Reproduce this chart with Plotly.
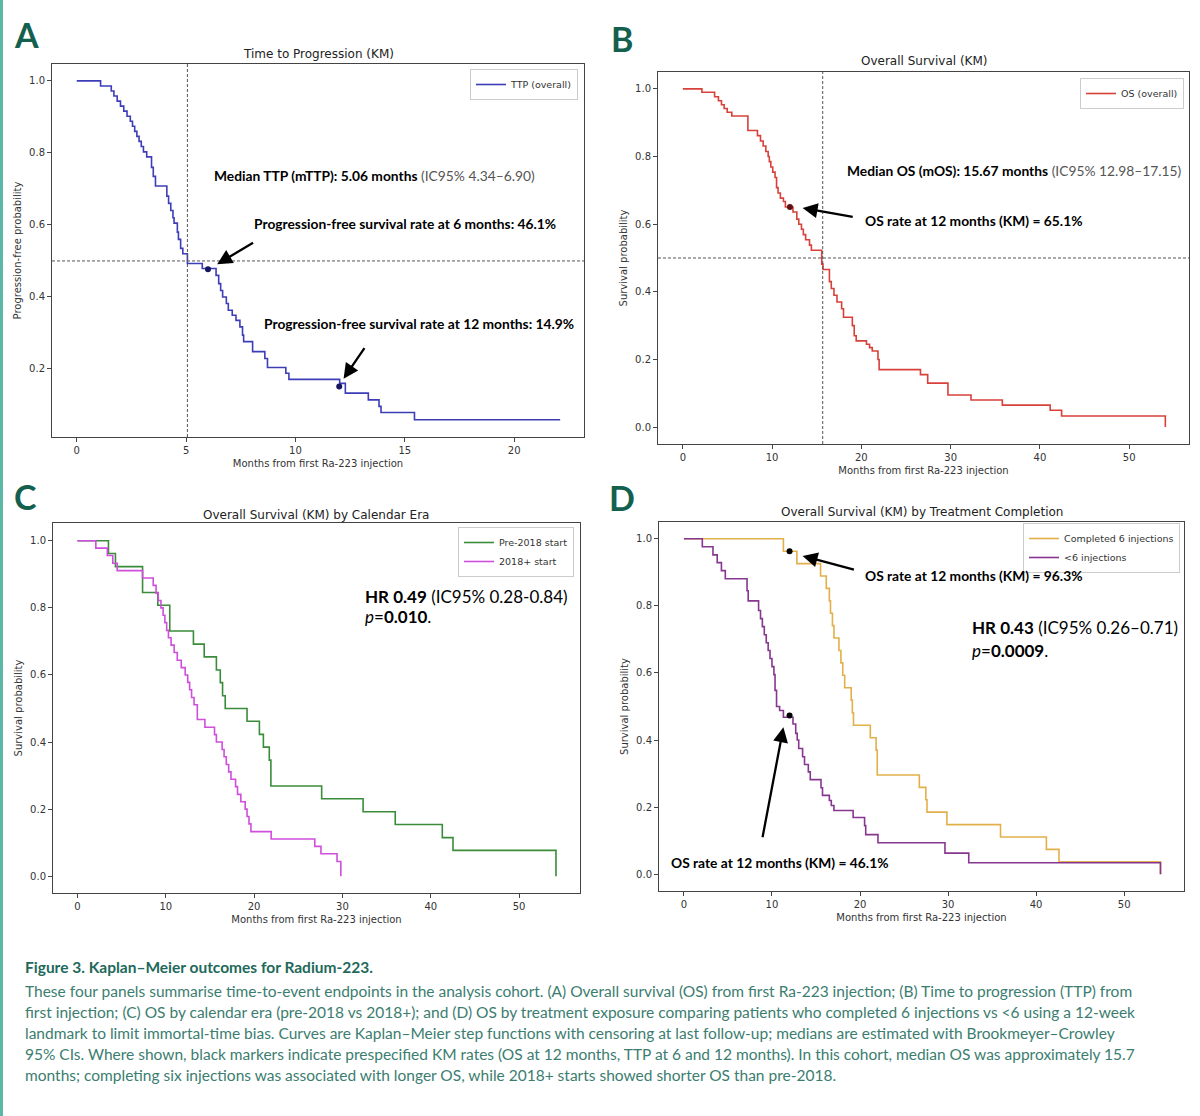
import plotly.graph_objects as go

W, H = 1200, 1116

# ---------------- data ----------------
# Panel A: Time to progression (overall)
ttp_t = [0, 1.09, 1.58, 1.70, 1.85, 2.00, 2.15, 2.30, 2.45, 2.55, 2.65, 2.75, 2.85, 2.95, 3.05, 3.20, 3.42, 3.50, 3.60, 4.12,
         4.20, 4.30, 4.40, 4.45, 4.60, 4.65, 4.75, 4.85, 5.06, 5.74, 6.37, 6.49, 6.58, 6.67, 6.84, 6.93, 7.11, 7.28, 7.46, 7.58,
         7.63, 8.04, 8.60, 8.72, 9.56, 9.70, 12.02, 12.28, 13.33, 13.82, 13.91, 15.44, 22.10]
ttp_s = [1.000, 0.986, 0.972, 0.958, 0.944, 0.930, 0.916, 0.902, 0.888, 0.874, 0.860, 0.846, 0.832, 0.818, 0.803, 0.789, 0.760, 0.735, 0.708, 0.680,
         0.660, 0.640, 0.620, 0.605, 0.580, 0.560, 0.535, 0.520, 0.493, 0.479, 0.460, 0.437, 0.418, 0.400, 0.382, 0.363, 0.349, 0.335, 0.317, 0.294,
         0.276, 0.248, 0.229, 0.204, 0.188, 0.171, 0.160, 0.133, 0.114, 0.096, 0.079, 0.059, 0.059]
ttp_mark_t = [6.0, 12.0]
ttp_mark_s = [0.477, 0.151]
ttp_median = 5.06

# Panel B: Overall survival (overall)
os_t = [0, 2.14, 3.56, 3.99, 4.33, 4.63, 4.97, 5.49, 7.29, 8.36, 8.70, 9.00, 9.30, 9.56, 9.69, 9.86, 10.07, 10.33, 10.50, 10.67,
        10.93, 11.27, 11.49, 12.34, 12.77, 12.99, 13.29, 13.50, 13.76, 14.19, 14.40, 15.56, 15.70, 16.42, 16.63, 16.93, 17.27, 17.79, 18.00, 18.99,
        19.20, 19.42, 20.57, 20.92, 21.22, 21.86, 21.99, 26.62, 27.43, 29.70, 32.28, 35.79, 41.15, 42.43, 54.05]
os_s = [1.000, 0.990, 0.977, 0.965, 0.953, 0.942, 0.931, 0.920, 0.877, 0.862, 0.846, 0.831, 0.815, 0.800, 0.785, 0.769, 0.754, 0.738, 0.708, 0.692,
        0.677, 0.667, 0.651, 0.636, 0.615, 0.600, 0.585, 0.569, 0.554, 0.538, 0.523, 0.482, 0.466, 0.430, 0.410, 0.390, 0.370, 0.350, 0.325, 0.300,
        0.270, 0.255, 0.245, 0.235, 0.225, 0.200, 0.170, 0.155, 0.130, 0.095, 0.080, 0.065, 0.050, 0.033, 0.000]
os_mark_t = [12.0]
os_mark_s = [0.651]
os_median = 15.67

# Panel C: OS by calendar era
pre_t = [0, 3.51, 4.30, 7.37, 9.10, 10.45, 13.13, 14.35, 15.73, 16.17, 16.43, 16.73, 19.20, 20.60, 21.05, 21.72, 21.90, 27.65, 32.34, 35.98,
         41.31, 42.52, 54.18]
pre_s = [1.000, 0.962, 0.923, 0.846, 0.808, 0.731, 0.692, 0.654, 0.615, 0.577, 0.538, 0.500, 0.462, 0.423, 0.385, 0.346, 0.269, 0.231, 0.192, 0.154,
         0.115, 0.077, 0.000]
post_t = [0, 2.08, 3.38, 4.00, 4.50, 7.37, 8.58, 8.90, 9.15, 9.45, 9.70, 9.90, 10.10, 10.30, 10.60, 10.95, 11.30, 11.75, 12.20, 12.48,
          12.70, 12.92, 13.20, 13.57, 14.43, 15.52, 15.73, 16.38, 16.60, 16.85, 17.12, 17.38, 17.90, 18.12, 18.50, 18.99, 19.20, 19.42, 19.64, 21.93,
          26.87, 27.57, 29.39, 29.82]
post_s = [1.000, 0.978, 0.956, 0.933, 0.911, 0.889, 0.867, 0.844, 0.822, 0.800, 0.778, 0.756, 0.733, 0.711, 0.689, 0.667, 0.644, 0.622, 0.600, 0.578,
          0.556, 0.533, 0.511, 0.467, 0.444, 0.422, 0.400, 0.378, 0.356, 0.333, 0.311, 0.289, 0.267, 0.244, 0.222, 0.200, 0.178, 0.156, 0.133, 0.111,
          0.089, 0.067, 0.044, 0.000]

# Panel D: OS by treatment completion
done_t = [0, 11.30, 12.83, 15.52, 16.17, 16.52, 16.65, 16.87, 17.04, 17.61, 17.83, 18.04, 18.26, 19.00, 19.13, 19.26, 21.17, 21.83, 21.96, 26.74,
          27.48, 27.61, 29.87, 35.96, 41.17, 42.60, 54.13]
done_s = [1.000, 0.963, 0.926, 0.889, 0.852, 0.815, 0.778, 0.741, 0.704, 0.667, 0.630, 0.593, 0.556, 0.519, 0.481, 0.444, 0.407, 0.370, 0.296, 0.259,
          0.222, 0.185, 0.148, 0.111, 0.074, 0.037, 0.000]
lt6_t = [0, 2.09, 3.30, 3.78, 4.26, 4.70, 7.17, 7.30, 8.48, 8.70, 8.91, 9.13, 9.35, 9.57, 9.78, 10.00, 10.22, 10.35, 10.52, 10.87,
         11.30, 12.39, 12.70, 12.87, 13.04, 13.48, 13.70, 14.13, 14.35, 15.57, 15.74, 16.52, 16.74, 17.04, 19.22, 20.52, 20.65, 22.04, 29.65, 32.35,
         54.13]
lt6_s = [1.000, 0.976, 0.952, 0.929, 0.905, 0.881, 0.845, 0.815, 0.786, 0.762, 0.738, 0.714, 0.690, 0.667, 0.643, 0.619, 0.595, 0.548, 0.500, 0.488,
         0.468, 0.448, 0.420, 0.400, 0.375, 0.350, 0.327, 0.305, 0.282, 0.258, 0.235, 0.220, 0.205, 0.190, 0.169, 0.145, 0.118, 0.094, 0.063, 0.034,
         0.000]
d_mark_t = [12.0, 12.0]
d_mark_s = [0.963, 0.473]

caption_title = "Figure 3. Kaplan\u2013Meier outcomes for Radium-223."
caption_lines = [
    "These four panels summarise time-to-event endpoints in the analysis cohort. (A) Overall survival (OS) from first Ra-223 injection; (B) Time to progression (TTP) from",
    "first injection; (C) OS by calendar era (pre-2018 vs 2018+); and (D) OS by treatment exposure comparing patients who completed 6 injections vs &lt;6 using a 12-week",
    "landmark to limit immortal-time bias. Curves are Kaplan\u2013Meier step functions with censoring at last follow-up; medians are estimated with Brookmeyer\u2013Crowley",
    "95% CIs. Where shown, black markers indicate prespecified KM rates (OS at 12 months, TTP at 6 and 12 months). In this cohort, median OS was approximately 15.7",
    "months; completing six injections was associated with longer OS, while 2018+ starts showed shorter OS than pre-2018.",
]

# ---------------- styling ----------------
TICKFONT = dict(family="DejaVu Sans", size=10, color="#333333")
LBLFONT = dict(family="DejaVu Sans", size=10, color="#333333")
TTLFONT = dict(family="DejaVu Sans", size=12, color="#222222")
ANN = "Lato"
TEAL_DARK = "#14604e"
TEAL_TXT = "#3b7d6f"

C_TTP = "#3d3db8"
C_OS = "#d8403a"
C_PRE = "#3a8c3a"
C_POST = "#cf4fdc"
C_DONE = "#e2b04a"
C_LT6 = "#86378f"


def px_x(p):
    return p / W


def px_y(p):
    return 1 - p / H


fig = go.Figure()

# Panel A
fig.add_trace(go.Scatter(x=ttp_t, y=ttp_s, mode="lines", line_shape="hv", line=dict(color=C_TTP, width=1.6),
                         name="TTP (overall)", xaxis="x", yaxis="y", legend="legend"))
fig.add_trace(go.Scatter(x=ttp_mark_t, y=ttp_mark_s, mode="markers", marker=dict(color="#16165e", size=6),
                         showlegend=False, xaxis="x", yaxis="y"))
# Panel B
fig.add_trace(go.Scatter(x=os_t, y=os_s, mode="lines", line_shape="hv", line=dict(color=C_OS, width=1.6),
                         name="OS (overall)", xaxis="x2", yaxis="y2", legend="legend2"))
fig.add_trace(go.Scatter(x=os_mark_t, y=os_mark_s, mode="markers", marker=dict(color="#5a1212", size=6),
                         showlegend=False, xaxis="x2", yaxis="y2"))
# Panel C
fig.add_trace(go.Scatter(x=pre_t, y=pre_s, mode="lines", line_shape="hv", line=dict(color=C_PRE, width=1.6),
                         name="Pre-2018 start", xaxis="x3", yaxis="y3", legend="legend3"))
fig.add_trace(go.Scatter(x=post_t, y=post_s, mode="lines", line_shape="hv", line=dict(color=C_POST, width=1.6),
                         name="2018+ start", xaxis="x3", yaxis="y3", legend="legend3"))
# Panel D
fig.add_trace(go.Scatter(x=done_t, y=done_s, mode="lines", line_shape="hv", line=dict(color=C_DONE, width=1.6),
                         name="Completed 6 injections", xaxis="x4", yaxis="y4", legend="legend4"))
fig.add_trace(go.Scatter(x=lt6_t, y=lt6_s, mode="lines", line_shape="hv", line=dict(color=C_LT6, width=1.6),
                         name="&lt;6 injections", xaxis="x4", yaxis="y4", legend="legend4"))
fig.add_trace(go.Scatter(x=d_mark_t, y=d_mark_s, mode="markers", marker=dict(color="black", size=6),
                         showlegend=False, xaxis="x4", yaxis="y4"))


def axis(domain, rng, dtick, title, standoff, anchor, is_y=False):
    d = dict(domain=domain, range=rng, dtick=dtick, tick0=0, showgrid=False, zeroline=False,
             showline=True, mirror=True, linecolor="#444444", linewidth=1,
             ticks="outside", ticklen=4, tickcolor="#444444", tickfont=TICKFONT,
             title=dict(text=title, font=LBLFONT, standoff=standoff), anchor=anchor, automargin=False)
    if is_y:
        d["tickformat"] = ".1f"
    return d


frames = {
    "A": (52, 584, 64, 437),
    "B": (658, 1189, 72, 444),
    "C": (53, 580, 523, 893),
    "D": (659, 1184, 522, 891),
}


def dom(f):
    l, r, t, b = f
    return [px_x(l), px_x(r)], [px_y(b), px_y(t)]


xa, ya = dom(frames["A"])
xb, yb = dom(frames["B"])
xc, yc = dom(frames["C"])
xd, yd = dom(frames["D"])

XL = "Months from first Ra-223 injection"
fig.update_layout(
    width=W, height=H, margin=dict(l=0, r=0, t=0, b=0),
    paper_bgcolor="white", plot_bgcolor="white",
    xaxis=axis(xa, [-1.13, 23.19], 5, XL, 4, "y"),
    yaxis=axis(ya, [0.011, 1.047], 0.2, "Progression-free probability", 5, "x", True),
    xaxis2=axis(xb, [-2.78, 56.7], 10, XL, 4, "y2"),
    yaxis2=axis(yb, [-0.05, 1.05], 0.2, "Survival probability", 5, "x2", True),
    xaxis3=axis(xc, [-2.77, 56.9], 10, XL, 4, "y3"),
    yaxis3=axis(yc, [-0.05, 1.053], 0.2, "Survival probability", 5, "x3", True),
    xaxis4=axis(xd, [-2.83, 56.8], 10, XL, 4, "y4"),
    yaxis4=axis(yd, [-0.05, 1.05], 0.2, "Survival probability", 5, "x4", True),
)

leg_common = dict(bgcolor="white", bordercolor="#cccccc", borderwidth=1,
                  font=dict(family="DejaVu Sans", size=9.5, color="#333333"),
                  itemwidth=30, xanchor="right", yanchor="top", tracegroupgap=0)
fig.update_layout(
    legend=dict(x=px_x(578), y=px_y(69), **leg_common),
    legend2=dict(x=px_x(1184), y=px_y(78), **leg_common),
    legend3=dict(x=px_x(574), y=px_y(527), **leg_common),
    legend4=dict(x=px_x(1180), y=px_y(523), **leg_common),
)

shapes = []
# median guide lines
for xr, yr, med in [("x", "y", ttp_median), ("x2", "y2", os_median)]:
    shapes.append(dict(type="line", xref=xr, yref=yr + " domain", x0=med, x1=med, y0=0, y1=1,
                       line=dict(color="#555555", width=1, dash="3px,2px")))
    shapes.append(dict(type="line", xref=xr + " domain", yref=yr, x0=0, x1=1, y0=0.5, y1=0.5,
                       line=dict(color="#555555", width=1, dash="3px,2px")))
# teal page border on the left
shapes.append(dict(type="rect", xref="paper", yref="paper", x0=0, x1=px_x(3), y0=0, y1=1,
                   fillcolor="#5bb8a6", line=dict(width=0), layer="below"))
fig.update_layout(shapes=shapes)

ann = []
# panel titles
for txt, cx, cy in [("Time to Progression (KM)", 318, 54), ("Overall Survival (KM)", 924, 61),
                    ("Overall Survival (KM) by Calendar Era", 316, 515),
                    ("Overall Survival (KM) by Treatment Completion", 922, 512)]:
    ann.append(dict(text=txt, x=px_x(cx), y=px_y(cy), xref="paper", yref="paper", showarrow=False,
                    xanchor="center", yanchor="middle", font=TTLFONT))
# panel letters
for txt, cx, cy in [("A", 26, 34), ("B", 622, 38), ("C", 25, 496), ("D", 622, 497)]:
    ann.append(dict(text="<b>%s</b>" % txt, x=px_x(cx), y=px_y(cy), xref="paper", yref="paper", showarrow=False,
                    xanchor="center", yanchor="middle", font=dict(family=ANN, size=34, color=TEAL_DARK)))


def txt(s, x, y, xr, yr, size=13.8, color="black"):
    return dict(text=s, x=x, y=y, xref=xr, yref=yr, showarrow=False, xanchor="left", yanchor="middle",
                font=dict(family=ANN, size=size, color=color))


def arrow(hx, hy, tx, ty, xr, yr):
    return dict(text="", x=hx, y=hy, ax=tx, ay=ty, xref=xr, yref=yr, axref=xr, ayref=yr, showarrow=True,
                arrowhead=2, arrowsize=1.3, arrowwidth=2.3, arrowcolor="black", standoff=0)


GRAY = "<span style='color:#555555'>"
ann += [
    txt("<b>Median TTP (mTTP): 5.06 months</b> " + GRAY + "(IC95% 4.34\u20136.90)</span>", 6.19, 0.736, "x", "y"),
    txt("<b>Progression-free survival rate at 6 months: 46.1%</b>", 8.0, 0.604, "x", "y"),
    txt("<b>Progression-free survival rate at 12 months: 14.9%</b>", 8.47, 0.326, "x", "y"),
    arrow(6.42, 0.491, 8.13, 0.553, "x", "y"),
    arrow(12.2, 0.173, 13.2, 0.262, "x", "y"),
    txt("<b>Median OS (mOS): 15.67 months</b> " + GRAY + "(IC95% 12.98\u201317.15)</span>", 18.14, 0.759, "x2", "y2"),
    txt("<b>OS rate at 12 months (KM) = 65.1%</b>", 20.19, 0.61, "x2", "y2"),
    arrow(13.42, 0.648, 19.2, 0.621, "x2", "y2"),
    txt("<b>HR 0.49</b> (IC95% 0.28-0.84)", 32.3, 0.834, "x3", "y3", size=17),
    txt("<i>p</i>=<b>0.010</b>.", 32.3, 0.775, "x3", "y3", size=17),
    txt("<b>OS rate at 12 months (KM) = 96.3%</b>", 20.35, 0.89, "x4", "y4"),
    arrow(13.48, 0.949, 19.48, 0.907, "x4", "y4"),
    txt("<b>HR 0.43</b> (IC95% 0.26\u20130.71)", 32.5, 0.736, "x4", "y4", size=17),
    txt("<i>p</i>=<b>0.0009</b>.", 32.5, 0.667, "x4", "y4", size=17),
    txt("<b>OS rate at 12 months (KM) = 46.1%</b>", -1.74, 0.036, "x4", "y4"),
    arrow(11.3, 0.438, 8.9, 0.106, "x4", "y4"),
]

# caption
ann.append(dict(text="<b>" + caption_title + "</b>", x=px_x(23), y=px_y(967), xref="paper", yref="paper",
                showarrow=False, xanchor="left", yanchor="middle", font=dict(family=ANN, size=15.5, color="#21695a")))
for i, line in enumerate(caption_lines):
    ann.append(dict(text=line, x=px_x(23), y=px_y(991 + 21 * i), xref="paper", yref="paper",
                    showarrow=False, xanchor="left", yanchor="middle", font=dict(family=ANN, size=15.5, color=TEAL_TXT)))

fig.update_layout(annotations=ann)

fig.write_html("out.html")
